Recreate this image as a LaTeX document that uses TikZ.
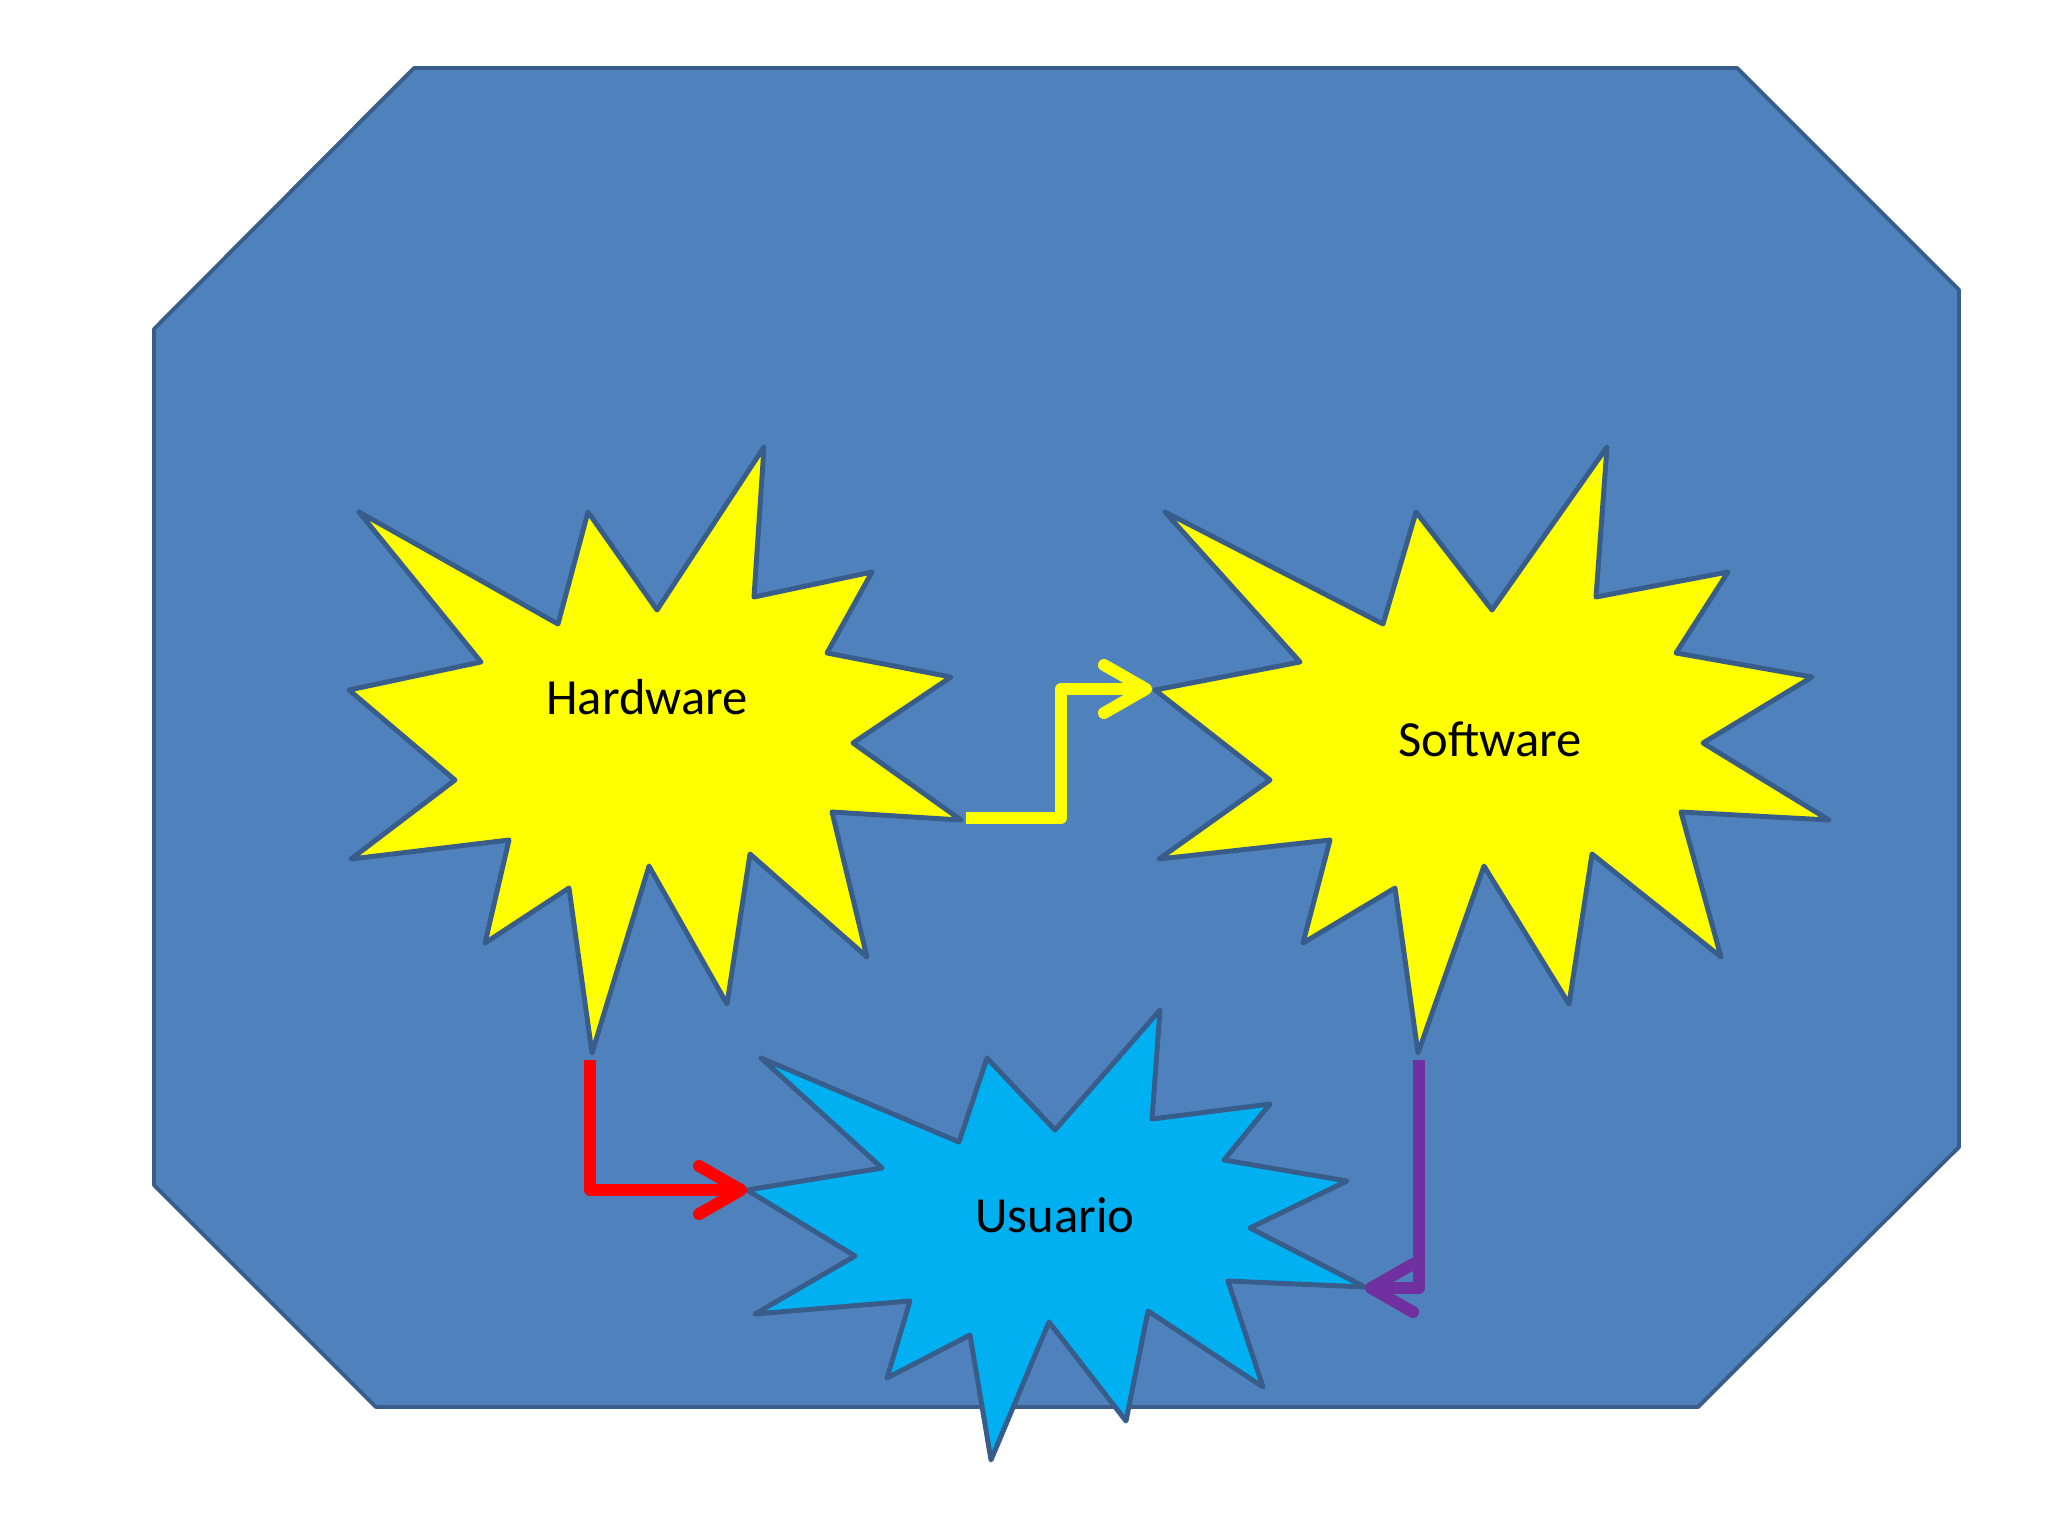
\documentclass[tikz,border=0pt]{standalone}
\usepackage{fontspec}
\setmainfont{Carlito}
\usetikzlibrary{arrows.meta}

\definecolor{panelblue}{HTML}{4F81BD}
\definecolor{edgeblue}{HTML}{385D8A}
\definecolor{staryellow}{HTML}{FFFF00}
\definecolor{starcyan}{HTML}{00B0F0}
\definecolor{flowred}{HTML}{FF0000}
\definecolor{flowpurple}{HTML}{7030A0}

\begin{document}
\begin{tikzpicture}[
		x=0.01cm, y=-0.01cm,
		panel/.style={draw=edgeblue, fill=panelblue, line width=1.1pt, line join=round},
		burst/.style={draw=edgeblue, line width=1.4pt, line join=round},
		label/.style={font=\fontsize{14.4}{17}\selectfont, text=black, inner sep=0pt},
		flow/.style={line width=3.4pt, line join=round, line cap=butt,
			-{Straight Barb[length=0.42cm, width=0.48cm, round]}}
		]
		
		\useasboundingbox (0,0) rectangle (2048,1536);
		
		% --- BACKGROUND PANEL ---
		\draw[panel] (414,68) -- (1737,68) -- (1959,290) -- (1959,1147) -- (1698,1407)
			-- (376,1407) -- (154,1185) -- (154,329) -- cycle;
		
		% --- HARDWARE BURST ---
		\draw[burst, fill=staryellow] (764,447) -- (754,597) -- (872,572) -- (827,653)
			-- (951,677) -- (853,743) -- (961,820) -- (832,812) -- (867,957) -- (750,854)
			-- (727,1004) -- (649,866) -- (592,1053) -- (569,888) -- (485,943) -- (509,840)
			-- (351,859) -- (455,780) -- (349,690) -- (481,662) -- (359,512) -- (558,624)
			-- (588,512) -- (657,610) -- cycle;
		\node[label] (hw) at (647,697) {Hardware};
		\coordinate (hwR) at (966,818);
		\coordinate (hwB) at (590,1060);
		
		% --- SOFTWARE BURST ---
		\draw[burst, fill=staryellow] (1607,447) -- (1596,597) -- (1728,572) -- (1676,653)
			-- (1812,677) -- (1703,743) -- (1829,820) -- (1681,812) -- (1721,957) -- (1592,854)
			-- (1569,1004) -- (1484,866) -- (1418,1053) -- (1395,888) -- (1303,943) -- (1330,840)
			-- (1159,859) -- (1270,780) -- (1155,690) -- (1300,662) -- (1165,512) -- (1383,624)
			-- (1416,512) -- (1492,610) -- cycle;
		\node[label] (sw) at (1490,739) {Software};
		\coordinate (swL) at (1152,689);
		\coordinate (swB) at (1419,1060);
		
		% --- USUARIO BURST ---
		\draw[burst, fill=starcyan] (1160,1010) -- (1152,1119) -- (1270,1104) -- (1224,1160)
			-- (1347,1181) -- (1250,1228) -- (1365,1287) -- (1228,1281) -- (1263,1387) -- (1148,1311)
			-- (1126,1421) -- (1049,1322) -- (991,1460) -- (970,1335) -- (887,1378) -- (910,1301)
			-- (755,1314) -- (855,1256) -- (747,1190) -- (882,1168) -- (761,1058) -- (959,1142)
			-- (987,1058) -- (1055,1130) -- cycle;
		\node[label] (us) at (1055,1215) {Usuario};
		\coordinate (usL) at (747,1190);
		\coordinate (usR) at (1365,1288);
		
		% --- FLOWS ---
		\draw[flow, draw=staryellow] (hwR) -- (1061,818) |- (swL);
		\draw[flow, draw=flowred] (hwB) |- (usL);
		\draw[flow, draw=flowpurple] (swB) |- (usR);
		
	\end{tikzpicture}
\end{document}
